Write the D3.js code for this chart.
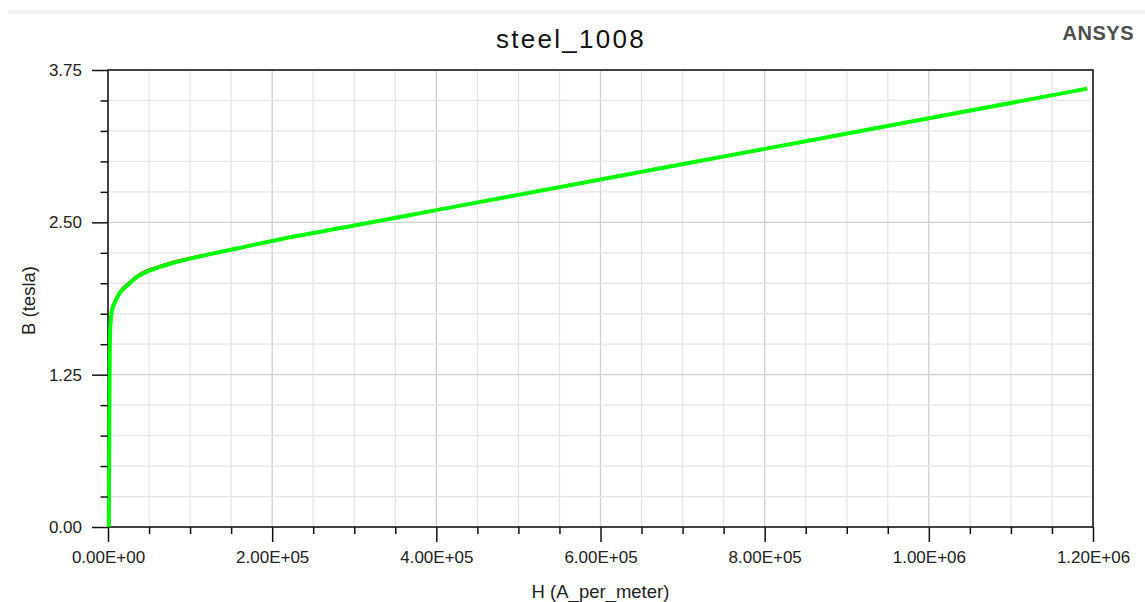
<!DOCTYPE html>
<html>
<head>
<meta charset="utf-8">
<script src="https://cdn.jsdelivr.net/npm/d3@7"></script>
<style>
  html, body { margin: 0; padding: 0; background: #fff; }
  svg { display: block; }
  text { font-family: "Liberation Sans", Arial, sans-serif; }
</style>
</head>
<body>
<svg id="chart" width="1145" height="602"></svg>
<script>
// ---- data ----
const chartTitle = "steel_1008";
const xAxisTitle = "H (A_per_meter)";
const yAxisTitle = "B (tesla)";
const H = [1000, 1300, 1600, 1900, 2200, 2600, 3200, 4500, 9750, 14600, 24800, 35000, 47100, 63350, 79600, 99900, 120200, 160000, 200000, 300000, 400000, 600000, 800000, 1000000, 1193000];
const B = [0, 0.40, 0.85, 1.20, 1.45, 1.60, 1.68, 1.767, 1.863, 1.923, 1.990, 2.050, 2.095, 2.134, 2.168, 2.202, 2.233, 2.290, 2.347, 2.474, 2.600, 2.852, 3.103, 3.354, 3.597];
const Bref = [0, 0.40, 0.85, 1.20, 1.45, 1.60, 1.69, 1.780, 1.877, 1.937, 2.003, 2.062, 2.106, 2.144, 2.177, 2.209, 2.238, 2.293, 2.348, 2.474, 2.600, 2.852, 3.103, 3.354, 3.597];
const xTickValues = [0, 200000, 400000, 600000, 800000, 1000000, 1200000];
const xTickLabels = ["0.00E+00", "2.00E+05", "4.00E+05", "6.00E+05", "8.00E+05", "1.00E+06", "1.20E+06"];
const yTickValues = [0, 1.25, 2.5, 3.75];
const yTickLabels = ["0.00", "1.25", "2.50", "3.75"];
const xMinorStep = 50000;
const yMinorStep = 0.25;

// ---- layout ----
const svg = d3.select("#chart");
const pL = 108, pR = 1093, pT = 70, pB = 527;
const x = d3.scaleLinear().domain([0, 1200000]).range([pL, pR]);
const y = d3.scaleLinear().domain([0, 3.75]).range([pB, pT]);

// top grey band
svg.append("rect").attr("x", 8).attr("y", 10).attr("width", 1137).attr("height", 4).attr("fill", "#efefef");

// title & logo
svg.append("text").attr("x", 571).attr("y", 48).attr("text-anchor", "middle")
  .attr("font-size", 26).attr("letter-spacing", 2.3).attr("fill", "#111").text(chartTitle);
svg.append("text").attr("x", 1134).attr("y", 39.5).attr("text-anchor", "end")
  .attr("font-size", 20).attr("font-weight", "bold").attr("letter-spacing", 0.5).attr("fill", "#4d4d4d").text("ANSYS");

// grid
const xMinor = d3.range(0, 1200000 + 1, xMinorStep);
const yMinor = d3.range(0, 3.75 + 1e-9, yMinorStep);
const grid = svg.append("g");
grid.selectAll(".gx").data(xMinor).join("line")
  .attr("x1", d => x(d)).attr("x2", d => x(d)).attr("y1", pT).attr("y2", pB)
  .attr("stroke", d => xTickValues.includes(d) ? "#cfcfcf" : "#e6e6e6").attr("stroke-width", 1.3);
grid.selectAll(".gy").data(yMinor).join("line")
  .attr("x1", pL).attr("x2", pR).attr("y1", d => y(d)).attr("y2", d => y(d))
  .attr("stroke", d => yTickValues.some(v => Math.abs(v - d) < 1e-9) ? "#cfcfcf" : "#e6e6e6").attr("stroke-width", 1.3);

// frame
svg.append("rect").attr("x", pL).attr("y", pT).attr("width", pR - pL).attr("height", pB - pT)
  .attr("fill", "none").attr("stroke", "#111").attr("stroke-width", 1.5);

// curves (drawn over the frame)
const line = d3.line().x((d, i) => x(H[i])).y(d => y(d)).curve(d3.curveMonotoneX);
svg.append("path").attr("d", line(Bref)).attr("fill", "none").attr("stroke", "#ff0000").attr("stroke-width", 2);
svg.append("path").attr("d", line(B)).attr("fill", "none").attr("stroke", "#00ff00").attr("stroke-width", 4);

// x axis
const xAxis = d3.axisBottom(x).tickValues(xTickValues).tickSize(15).tickPadding(9)
  .tickFormat((d, i) => xTickLabels[i]);
const gx = svg.append("g").attr("transform", `translate(0,${pB})`).call(xAxis);
gx.select(".domain").remove();
gx.selectAll(".tick line").attr("stroke", "#111").attr("stroke-width", 1.5);
gx.selectAll(".tick text").attr("font-size", 17).attr("fill", "#222").attr("font-family", "Liberation Sans, Arial, sans-serif");
const xMinorAxis = d3.axisBottom(x).tickValues(xMinor.filter(v => !xTickValues.includes(v))).tickSize(7).tickFormat("");
const gxm = svg.append("g").attr("transform", `translate(0,${pB})`).call(xMinorAxis);
gxm.select(".domain").remove();
gxm.selectAll(".tick line").attr("stroke", "#111").attr("stroke-width", 1.5);

// y axis
const yAxis = d3.axisLeft(y).tickValues(yTickValues).tickSize(16).tickPadding(10)
  .tickFormat((d, i) => yTickLabels[i]);
const gy = svg.append("g").attr("transform", `translate(${pL},0)`).call(yAxis);
gy.select(".domain").remove();
gy.selectAll(".tick line").attr("stroke", "#111").attr("stroke-width", 1.5);
gy.selectAll(".tick text").attr("font-size", 17).attr("fill", "#222").attr("font-family", "Liberation Sans, Arial, sans-serif");
const yMinorAxis = d3.axisLeft(y).tickValues(yMinor.filter(v => !yTickValues.some(t => Math.abs(t - v) < 1e-9))).tickSize(7.5).tickFormat("");
const gym = svg.append("g").attr("transform", `translate(${pL},0)`).call(yMinorAxis);
gym.select(".domain").remove();
gym.selectAll(".tick line").attr("stroke", "#111").attr("stroke-width", 1.5);

// axis titles
svg.append("text").attr("x", 600.5).attr("y", 598).attr("text-anchor", "middle")
  .attr("font-size", 18.5).attr("fill", "#222").text(xAxisTitle);
svg.append("text").attr("transform", "translate(35,300.5) rotate(-90)").attr("text-anchor", "middle")
  .attr("font-size", 18.5).attr("fill", "#222").text(yAxisTitle);
</script>
</body>
</html>
